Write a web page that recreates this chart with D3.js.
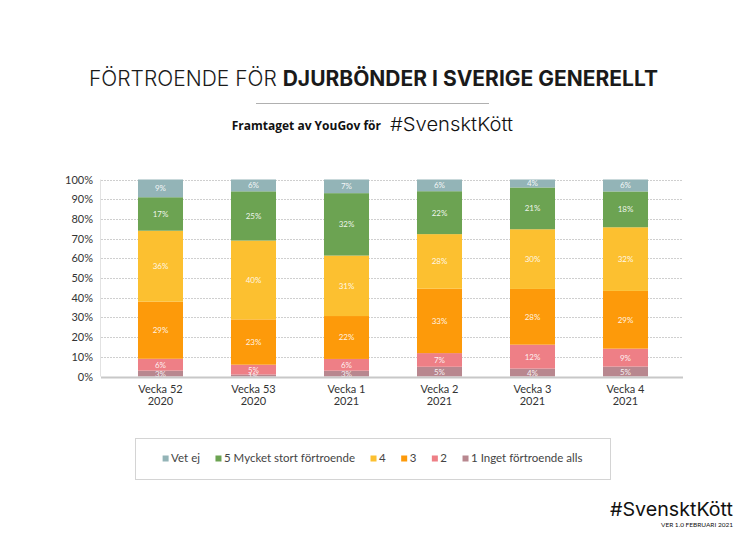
<!DOCTYPE html>
<html><head><meta charset="utf-8">
<script src="https://cdn.jsdelivr.net/npm/d3@7"></script>
<style>
html,body{margin:0;padding:0;background:#fff;}
svg{display:block;}
</style></head>
<body>
<script>
const categories = [["Vecka 52","2020"],["Vecka 53","2020"],["Vecka 1","2021"],["Vecka 2","2021"],["Vecka 3","2021"],["Vecka 4","2021"]];
const seriesNames = ["1 Inget förtroende alls","2","3","4","5 Mycket stort förtroende","Vet ej"];
const s1 = [3,1,3,5,4,5];
const s2 = [6,5,6,7,12,9];
const s3 = [29,23,22,33,28,29];
const s4 = [36,40,31,28,30,32];
const s5 = [17,25,32,22,21,18];
const sVet = [9,6,7,6,4,6];
const yTicks = [0,10,20,30,40,50,60,70,80,90,100];
const legendOrder = ["Vet ej","5 Mycket stort förtroende","4","3","2","1 Inget förtroende alls"];
const colors = {"1 Inget förtroende alls":"#b8878f","2":"#ee7f86","3":"#fd9a0a","4":"#fcc030","5 Mycket stort förtroende":"#6ca352","Vet ej":"#93b4b7"};

const W=746,H=533;
const svg=d3.select("body").append("svg").attr("width",W).attr("height",H);
const font="Lato, 'Noto Sans', sans-serif";

// Title
const t=svg.append("text").attr("x",373.5).attr("y",86).attr("text-anchor","middle")
  .attr("font-family","Inter, 'Noto Sans', sans-serif").attr("font-size",21).attr("fill","#1a1a1a");
t.append("tspan").attr("font-weight",300).text("FÖRTROENDE FÖR ");
t.append("tspan").attr("font-weight",700).text("DJURBÖNDER I SVERIGE GENERELLT");
svg.append("line").attr("x1",256).attr("x2",489).attr("y1",103.5).attr("y2",103.5).attr("stroke","#b0b0b0").attr("stroke-width",1);
svg.append("text").attr("x",381).attr("y",130).attr("text-anchor","end")
  .attr("font-family","'Open Sans', sans-serif").attr("font-weight",700).attr("font-size",12).attr("fill","#111")
  .text("Framtaget av YouGov för");
svg.append("text").attr("x",390).attr("y",130.5)
  .attr("font-family","Inter, 'Noto Sans', sans-serif").attr("font-weight",300).attr("font-size",19).attr("fill","#111")
  .attr("textLength",123).attr("lengthAdjust","spacingAndGlyphs")
  .text("#SvensktKött");

// Data
const rows = categories.map((c,i)=>({cat:c[0]+" "+c[1], label:c,
  "1 Inget förtroende alls":s1[i],"2":s2[i],"3":s3[i],"4":s4[i],"5 Mycket stort förtroende":s5[i],"Vet ej":sVet[i]}));
const stack=d3.stack().keys(seriesNames).offset(d3.stackOffsetExpand)(rows);

const x=d3.scaleBand().domain(rows.map(r=>r.cat)).range([102,684]).paddingInner(0.516).paddingOuter(0.387);
const y=d3.scaleLinear().domain([0,100]).range([376.5,179.5]);

// gridlines
svg.append("g").selectAll("line").data(yTicks.filter(d=>d>0)).join("line")
  .attr("x1",101).attr("x2",683).attr("y1",d=>Math.round(y(d))+0.5).attr("y2",d=>Math.round(y(d))+0.5)
  .attr("stroke","#cfcfcf").attr("stroke-width",1).attr("stroke-dasharray","2,1");
svg.append("line").attr("x1",100.5).attr("x2",100.5).attr("y1",y(100)).attr("y2",y(0))
  .attr("stroke","#e2e2e2").attr("stroke-width",1);

// y axis labels
const yAxis=d3.axisLeft(y).tickValues(yTicks).tickFormat(d=>d+"%").tickSize(0).tickPadding(0);
const ya=svg.append("g").attr("transform","translate(93,0)").call(yAxis);
ya.select(".domain").remove();
ya.selectAll("text").attr("font-family",font).attr("font-size",11).attr("fill","#333");

// bars
const g=svg.append("g");
stack.forEach(layer=>{
  g.selectAll(null).data(layer).join("rect")
   .attr("x",d=>x(d.data.cat)).attr("width",x.bandwidth())
   .attr("y",d=>y(d[1]*100)).attr("height",d=>Math.max(0,y(d[0]*100)-y(d[1]*100)))
   .attr("fill",colors[layer.key]);
});
stack.forEach(layer=>{
  g.selectAll(null).data(layer).join("text")
   .attr("x",d=>x(d.data.cat)+x.bandwidth()/2)
   .attr("y",d=>(y(d[0]*100)+y(d[1]*100))/2+3)
   .attr("text-anchor","middle").attr("font-family",font).attr("font-size",8).attr("fill","#fff")
   .attr("fill-opacity",0.9)
   .text(d=>d.data[layer.key]+"%");
});

// baseline
svg.append("line").attr("x1",101).attr("x2",683).attr("y1",377.5).attr("y2",377.5).attr("stroke","#c8c8c8").attr("stroke-width",2);

// x labels
const xa=svg.append("g");
rows.forEach(r=>{
  const tx=xa.append("text").attr("x",x(r.cat)+x.bandwidth()/2).attr("text-anchor","middle")
    .attr("font-family",font).attr("font-size",11).attr("fill","#333");
  tx.append("tspan").attr("x",x(r.cat)+x.bandwidth()/2).attr("y",393).text(r.label[0]);
  tx.append("tspan").attr("x",x(r.cat)+x.bandwidth()/2).attr("y",405).text(r.label[1]);
});

// legend
svg.append("rect").attr("x",135.5).attr("y",438.5).attr("width",475).attr("height",41)
  .attr("fill","#fff").attr("stroke","#d4d4d4").attr("stroke-width",1);
const lg=svg.append("g");
let cx=0;
legendOrder.forEach(k=>{
  const it=lg.append("g").attr("transform",`translate(${cx},0)`);
  it.append("rect").attr("x",0).attr("y",-6.5).attr("width",6).attr("height",6).attr("fill",colors[k]);
  const tt=it.append("text").attr("x",8.5).attr("y",0).attr("font-family",font).attr("font-size",11.5).attr("fill","#444").text(k);
  const w=tt.node().getComputedTextLength();
  cx+=8.5+w+15.5;
});
const total=cx-15.5;
lg.attr("transform",`translate(${372.5-total/2},462)`);

// footer
svg.append("text").attr("x",733).attr("y",516).attr("text-anchor","end")
  .attr("font-family","Inter, 'Noto Sans', sans-serif").attr("font-weight",400).attr("font-size",19).attr("fill","#111")
  .attr("textLength",123).attr("lengthAdjust","spacingAndGlyphs").text("#SvensktKött");
svg.append("text").attr("x",733).attr("y",527).attr("text-anchor","end")
  .attr("font-family",font).attr("font-size",6.5).attr("fill","#111").text("VER 1.0 FEBRUARI 2021");
</script>
</body></html>
